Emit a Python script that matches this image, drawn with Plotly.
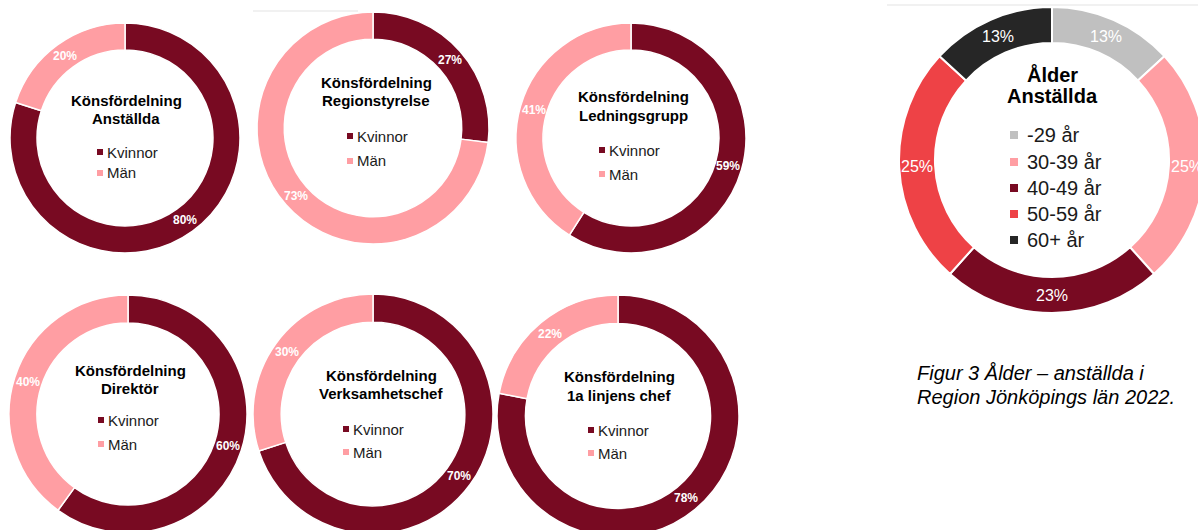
import math
import plotly.graph_objects as go

# canvas in px (slightly larger than the window so the edge donuts get clipped like the original)
W, H = 1210, 545

KVINNA_COL = "#780A22"
MAN_COL = "#FF9EA3"
FONT = "Liberation Sans, Arial, sans-serif"

# --- data ---
gender_groups = ["Anställda", "Regionstyrelse", "Ledningsgrupp",
                 "Direktör", "Verksamhetschef", "1a linjens chef"]
gender_labels = ["Kvinnor", "Män"]
kvinnor_pct = [80, 27, 59, 60, 70, 78]
man_pct = [20, 73, 41, 40, 30, 22]

age_labels = ["-29 år", "30-39 år", "40-49 år", "50-59 år", "60+ år"]
age_pct = [13, 25, 23, 25, 13]
age_colors = ["#C0C0C0", "#FF9EA3", "#780A22", "#EE4246", "#262626"]

caption_lines = ["Figur 3 Ålder – anställda i", "Region Jönköpings län 2022."]

# --- placement (px): cx, cy, r, title x, title line ys, legend marker x, legend ys ---
gender_pos = [
    (125, 138, 115, 126, (100, 118), 97, (152, 173)),
    (373, 128, 116, 376, (82, 100), 347, (136, 161)),
    (631, 138, 115, 633, (97, 115), 599, (150, 174)),
    (128, 414, 119, 130, (370, 388), 98, (420, 444)),
    (373, 414, 120, 381, (375, 393), 343, (429, 452)),
    (618, 416, 121, 619, (376, 395), 588, (430, 453)),
]
age_pos = (1052, 160, 153, 1052, (74, 96), 1010, (135, 162, 188, 214, 240))

HOLE = 0.765


def px(x):
    return x / W


def py(y):
    return 1 - y / H


def dom(cx, cy, r):
    return dict(x=[px(cx - r), px(cx + r)], y=[py(cy + r), py(cy - r)])


fig = go.Figure()
annos = []
shapes = []


def text_at(x, y, txt, size, bold=False, anchor="center", color="#000000", italic=False):
    if bold:
        txt = f"<b>{txt}</b>"
    if italic:
        txt = f"<i>{txt}</i>"
    annos.append(dict(
        x=px(x), y=py(y), xref="paper", yref="paper", text=txt, showarrow=False,
        xanchor=anchor, yanchor="middle",
        font=dict(size=size, color=color, family=FONT),
    ))


def marker_at(x, y, size, color):
    shapes.append(dict(
        type="rect", xref="paper", yref="paper",
        x0=px(x), x1=px(x + size), y0=py(y + size / 2), y1=py(y - size / 2),
        fillcolor=color, line=dict(width=0),
    ))


def slice_labels(values, cx, cy, r, size, bold):
    # data labels in the middle of each ring segment (clockwise from 12 o'clock)
    total = sum(values)
    rm = r * (1 + HOLE) / 2
    cum = 0
    for v in values:
        ang = 2 * math.pi * (cum + v / 2) / total
        cum += v
        text_at(cx + rm * math.sin(ang), cy - rm * math.cos(ang), f"{v}%", size,
                bold=bold, color="white")


def donut(labels, values, colors, cx, cy, r, gap):
    fig.add_trace(go.Pie(
        labels=labels, values=values,
        domain=dom(cx, cy, r), hole=HOLE, sort=False, direction="clockwise", rotation=0,
        marker=dict(colors=colors, line=dict(color="white", width=gap)),
        textinfo="none", showlegend=False, hoverinfo="label+value",
    ))


for i, group in enumerate(gender_groups):
    cx, cy, r, tx, tys, mx, lys = gender_pos[i]
    vals = [kvinnor_pct[i], man_pct[i]]
    donut(gender_labels, vals, [KVINNA_COL, MAN_COL], cx, cy, r, 1.5)
    slice_labels(vals, cx, cy, r, 12, True)
    text_at(tx, tys[0], "Könsfördelning", 15, bold=True)
    text_at(tx, tys[1], group, 15, bold=True)
    for lab, col, ly in zip(gender_labels, [KVINNA_COL, MAN_COL], lys):
        marker_at(mx, ly, 6, col)
        text_at(mx + 8, ly, lab, 15, anchor="left", color="#1a1a1a")

cx, cy, r, tx, tys, mx, lys = age_pos
donut(age_labels, age_pct, age_colors, cx, cy, r, 2)
slice_labels(age_pct, cx, cy, r, 16, False)
text_at(tx, tys[0], "Ålder", 20, bold=True)
text_at(tx, tys[1], "Anställda", 20, bold=True)
for lab, col, ly in zip(age_labels, age_colors, lys):
    marker_at(mx, ly, 8, col)
    text_at(mx + 15, ly, lab, 20, anchor="left", color="#1a1a1a")

for ly, line in zip((373, 397), caption_lines):
    text_at(915, ly, line, 20, anchor="left", italic=True)

# faint frame edges from the source images
for x0, x1, y in [(253, 358, 11), (887, 1198, 5)]:
    shapes.append(dict(type="line", xref="paper", yref="paper", layer="below",
                       x0=px(x0), x1=px(x1), y0=py(y), y1=py(y),
                       line=dict(color="#E3E3E3", width=1)))

fig.update_layout(
    width=W, height=H, autosize=False,
    margin=dict(l=0, r=0, t=0, b=0),
    paper_bgcolor="white", plot_bgcolor="white",
    annotations=annos, shapes=shapes,
    font=dict(family=FONT),
)

fig.write_html(
    "out.html",
    config={"displayModeBar": False},
    post_script="document.body.style.margin='0';document.body.style.overflow='hidden';"
                "document.documentElement.style.overflow='hidden';",
)
